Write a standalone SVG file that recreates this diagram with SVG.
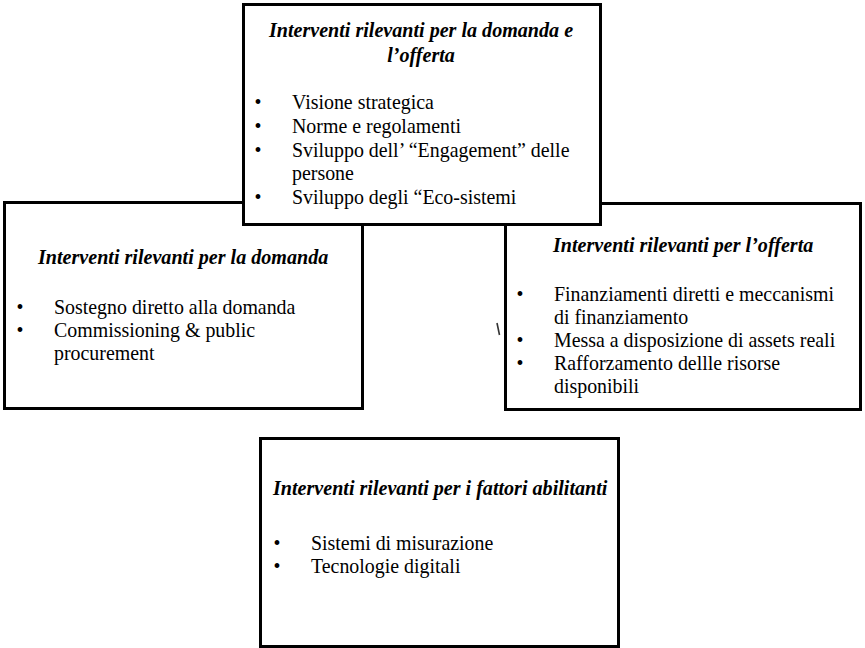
<svg xmlns="http://www.w3.org/2000/svg" width="865" height="648" viewBox="0 0 865 648">
<style>
.box{fill:#fff;stroke:#000;stroke-width:3}
text{font-family:"Liberation Serif","Times New Roman",serif;font-size:19.9px;fill:#000}
.t{font-weight:bold;font-style:italic;font-size:20.1px}
</style>
<rect width="865" height="648" fill="#fff"/>
<g id="connectors"></g>
<g id="domanda">
<rect class="box" x="4.5" y="202.5" width="358" height="206"/>
<text class="t" x="38" y="264">Interventi rilevanti per la domanda</text>
<text x="20" y="314" text-anchor="middle">•</text>
<text x="54" y="314">Sostegno diretto alla domanda</text>
<text x="20" y="337" text-anchor="middle">•</text>
<text x="54" y="337">Commissioning &amp; public</text>
<text x="54" y="360">procurement</text>
</g>
<g id="offerta">
<rect class="box" x="505.5" y="203.5" width="355" height="206"/>
<text class="t" x="553" y="252">Interventi rilevanti per l’offerta</text>
<text x="520" y="301" text-anchor="middle">•</text>
<text x="554" y="301">Finanziamenti diretti e meccanismi</text>
<text x="554" y="324">di finanziamento</text>
<text x="520" y="347" text-anchor="middle">•</text>
<text x="554" y="347">Messa a disposizione di assets reali</text>
<text x="520" y="370" text-anchor="middle">•</text>
<text x="554" y="370">Rafforzamento dellle risorse</text>
<text x="554" y="393">disponibili</text>
<line x1="497" y1="323" x2="499.5" y2="335" stroke="#333" stroke-width="1.6"/>
</g>
<g id="abilitanti">
<rect class="box" x="260.5" y="438.5" width="358" height="208"/>
<text class="t" x="273" y="495">Interventi rilevanti per i fattori abilitanti</text>
<text x="277" y="550" text-anchor="middle">•</text>
<text x="311" y="550">Sistemi di misurazione</text>
<text x="277" y="573" text-anchor="middle">•</text>
<text x="311" y="573">Tecnologie  digitali</text>
</g>
<g id="domanda-offerta">
<rect class="box" x="243.5" y="4.5" width="357" height="220"/>
<text class="t" x="421" y="37" text-anchor="middle">Interventi rilevanti per la domanda e</text>
<text class="t" x="421" y="62" text-anchor="middle">l’offerta</text>
<text x="258" y="109" text-anchor="middle">•</text>
<text x="292" y="109">Visione strategica</text>
<text x="258" y="133" text-anchor="middle">•</text>
<text x="292" y="133">Norme e regolamenti</text>
<text x="258" y="157" text-anchor="middle">•</text>
<text x="292" y="157">Sviluppo dell’ “Engagement” delle</text>
<text x="292" y="180">persone</text>
<text x="258" y="204" text-anchor="middle">•</text>
<text x="292" y="204">Sviluppo degli “Eco-sistemi</text>
</g>
</svg>
